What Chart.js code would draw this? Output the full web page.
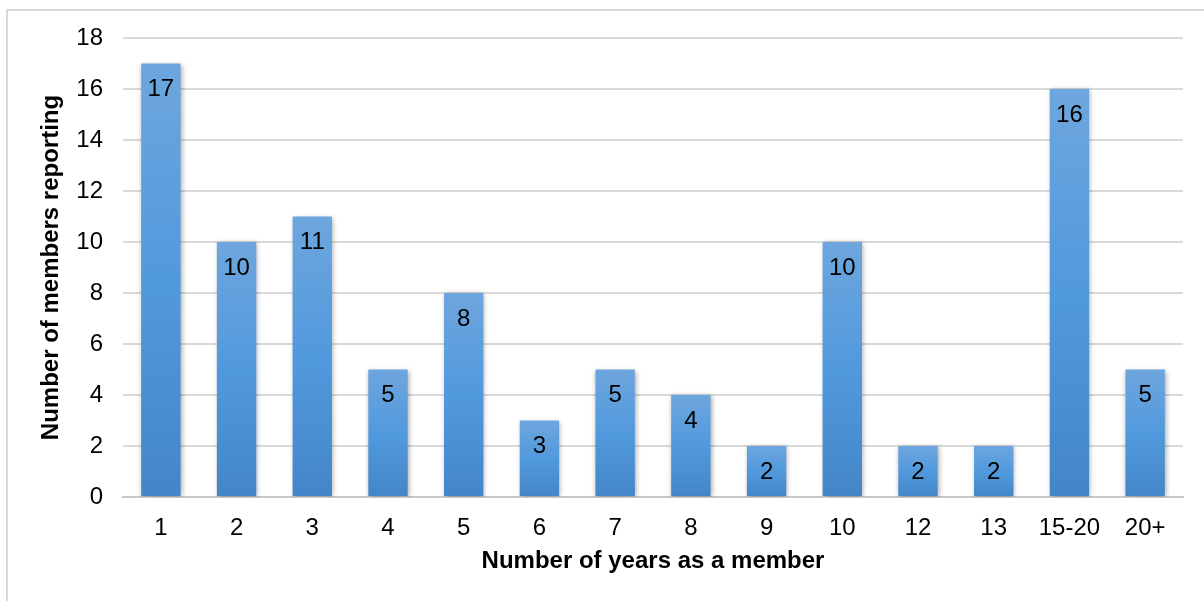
<!DOCTYPE html>
<html>
<head>
<meta charset="utf-8">
<script src="https://cdn.jsdelivr.net/npm/chart.js@4"></script>
<style>
  html, body { margin: 0; padding: 0; background: #fff; }
  #wrap { position: relative; width: 1204px; height: 601px; }
</style>
</head>
<body>
<div id="wrap"><canvas id="yearsChart" width="1204" height="601"></canvas></div>
<script>
// Chart data
const yearLabels = ["1", "2", "3", "4", "5", "6", "7", "8", "9", "10", "12", "13", "15-20", "20+"];
const memberCounts = [17, 10, 11, 5, 8, 3, 5, 4, 2, 10, 2, 2, 16, 5];
const yTicks = [0, 2, 4, 6, 8, 10, 12, 14, 16, 18];

const fontFamily = "'Liberation Sans', Arial, sans-serif";

// bar fill: light at top, darker toward the base
function barGradient(c) {
  const chart = c.chart;
  if (!chart.chartArea || c.type !== "data") return "#5b9bd5";
  const y = chart.scales.y;
  const top = y.getPixelForValue(c.raw);
  const bottom = y.getPixelForValue(0);
  const g = chart.ctx.createLinearGradient(0, top, 0, bottom);
  g.addColorStop(0, "#6ea6de");
  g.addColorStop(0.5, "#5199dd");
  g.addColorStop(1, "#4386c8");
  return g;
}

// light frame round the whole chart
const framePlugin = {
  id: "frame",
  beforeDraw(chart) {
    const ctx = chart.ctx;
    ctx.save();
    ctx.strokeStyle = "#d9d9d9";
    ctx.lineWidth = 2;
    ctx.strokeRect(7, 10, 1300, 700);
    ctx.restore();
  },
};

// soft shadow behind the bars
const shadowPlugin = {
  id: "barShadow",
  beforeDatasetsDraw(chart) {
    const ctx = chart.ctx;
    ctx.save();
    ctx.shadowColor = "rgba(0,0,0,0.35)";
    ctx.shadowBlur = 5;
    ctx.shadowOffsetX = 1;
    ctx.shadowOffsetY = 1;
  },
  afterDatasetsDraw(chart) {
    chart.ctx.restore();
  },
};

// value labels inside the top of each bar
const valueLabels = {
  id: "valueLabels",
  afterDatasetsDraw(chart) {
    const ctx = chart.ctx;
    const meta = chart.getDatasetMeta(0);
    ctx.save();
    ctx.font = "24px " + fontFamily;
    ctx.fillStyle = "#000";
    ctx.textAlign = "center";
    ctx.textBaseline = "middle";
    meta.data.forEach((bar, i) => {
      ctx.fillText(String(memberCounts[i]), bar.x, bar.y + 26);
    });
    ctx.restore();
  },
};

const ctx = document.getElementById("yearsChart");
new Chart(ctx, {
  type: "bar",
  data: {
    labels: yearLabels,
    datasets: [
      {
        label: "Number of members reporting",
        data: memberCounts,
        backgroundColor: barGradient,
        borderWidth: 0,
        barPercentage: 0.52,
        categoryPercentage: 1,
      },
    ],
  },
  options: {
    responsive: false,
    animation: false,
    layout: { padding: { top: 38, right: 21, bottom: 0, left: 0 } },
    plugins: {
      legend: { display: false },
      tooltip: { enabled: false },
    },
    scales: {
      x: {
        grid: { display: false },
        border: { display: true, color: "#c8c8c8", width: 2 },
        ticks: {
          color: "#000",
          padding: 9,
          maxRotation: 0,
          font: { family: fontFamily, size: 24 },
        },
        title: {
          display: true,
          text: "Number of years as a member",
          color: "#000",
          font: { family: fontFamily, size: 24, weight: "bold" },
          padding: { top: 0, bottom: 25 },
        },
        afterFit(scale) {
          scale.height = 104;
        },
      },
      y: {
        min: 0,
        max: 18,
        afterBuildTicks(scale) {
          scale.ticks = yTicks.map((v) => ({ value: v }));
        },
        grid: { color: "#d9d9d9", lineWidth: 2, drawTicks: false },
        border: { display: false },
        ticks: {
          color: "#000",
          padding: 20,
          font: { family: fontFamily, size: 24 },
        },
        title: {
          display: true,
          text: "Number of members reporting",
          color: "#000",
          font: { family: fontFamily, size: 24, weight: "bold" },
          padding: { top: 37, bottom: 0 },
        },
        afterFit(scale) {
          scale.width = 123;
        },
      },
    },
  },
  plugins: [framePlugin, shadowPlugin, valueLabels],
});
</script>
</body>
</html>
